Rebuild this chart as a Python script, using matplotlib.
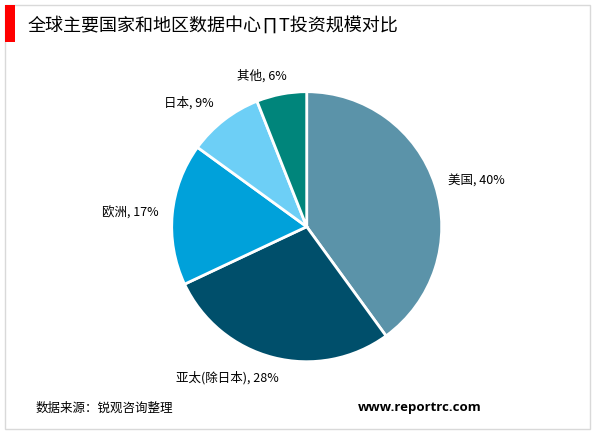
import matplotlib
matplotlib.use("Agg")
import matplotlib.pyplot as plt
from matplotlib.patches import Rectangle

plt.rcParams['font.family'] = ['Noto Sans CJK SC', 'DejaVu Sans']

categories = ['美国', '亚太(除日本)', '欧洲', '日本', '其他']
values = [40, 28, 17, 9, 6]
colors = ['#5B93A9', '#004F6B', '#00A1DA', '#6DCFF6', '#00857B']
title = '全球主要国家和地区数据中心∏T投资规模对比'
source = '数据来源：锐观咨询整理'
url = 'www.reportrc.com'

W, H = 600, 433
fig = plt.figure(figsize=(W / 100, H / 100), dpi=100)

def fx(px):
    return px / W

def fy(py):
    return 1 - py / H

# outer frame
fig.patches.append(Rectangle((fx(5), fy(429)), fx(585), (424) / H, transform=fig.transFigure,
                             fill=False, edgecolor='#d9d9d9', linewidth=1.0))
# red bar
fig.patches.append(Rectangle((fx(5), fy(42)), fx(10), 37 / H, transform=fig.transFigure,
                             facecolor='#FF0000', edgecolor='none'))

fig.text(fx(28), fy(26), title, fontsize=13, va='center', ha='left', color='#000000')
fig.text(fx(36), fy(408), source, fontsize=9, va='center', ha='left', color='#000000')
fig.text(fx(482), fy(408), url, fontsize=9.5, va='center', ha='right', color='#000000',
         fontweight='bold', family=['Open Sans', 'DejaVu Sans'])

cx, cy, r = 306.7, 226.7, 135
ax = fig.add_axes([fx(cx - r), fy(cy + r), 2 * r / W, 2 * r / H])
labels = [f'{c}, {v}%' for c, v in zip(categories, values)]
wedges, texts = ax.pie(values, colors=colors, startangle=90, counterclock=False,
                       labels=labels, labeldistance=1.1,
                       wedgeprops=dict(edgecolor='white', linewidth=2),
                       textprops=dict(fontsize=9, color='#000000'))
ax.set_xlim(-1, 1)
ax.set_ylim(-1, 1)
ax.set_aspect('equal')
ax.axis('off')
for t in texts:
    t.set_clip_on(False)
# fine-tune label placements
texts[1].set_horizontalalignment('center')
texts[1].set_position((-0.59, -1.12))
texts[4].set_horizontalalignment('center')
texts[4].set_position((-0.33, 1.12))
texts[3].set_position((-0.69, 0.92))

fig.savefig('out.png', dpi=100)
